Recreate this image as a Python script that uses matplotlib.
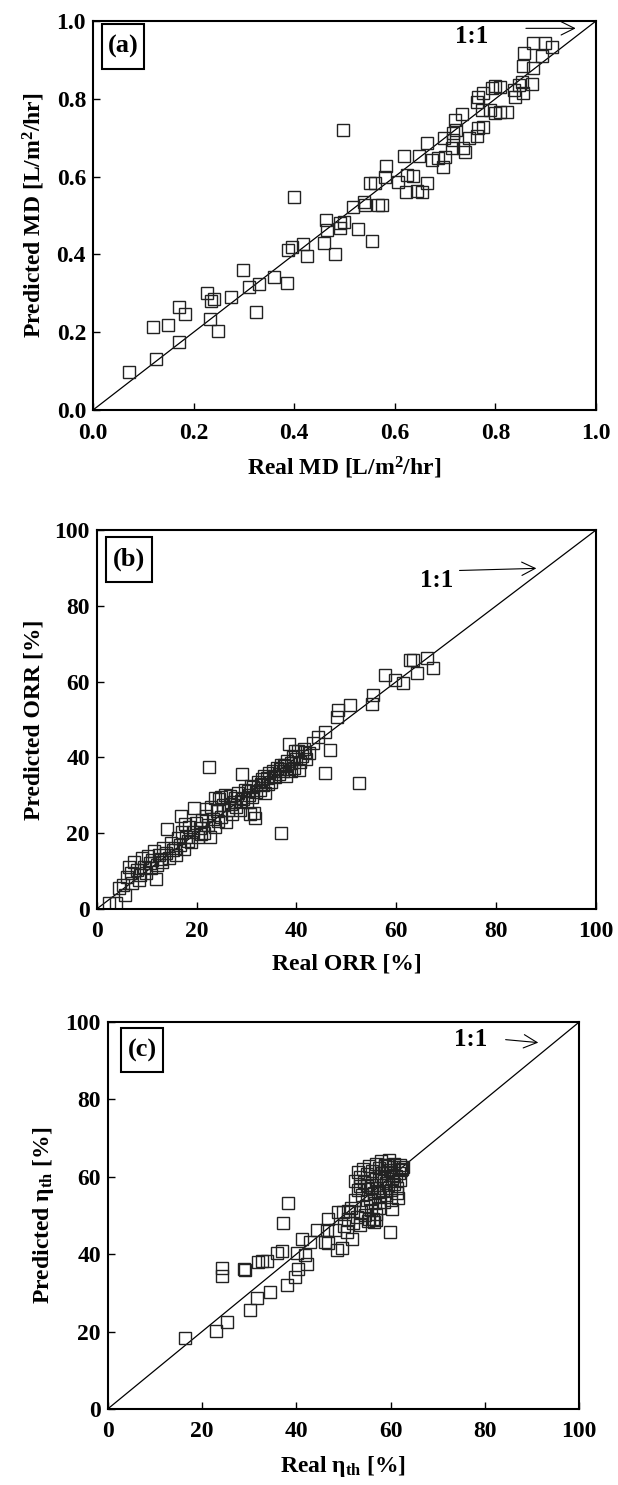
import matplotlib
matplotlib.use("Agg")
import matplotlib.pyplot as plt
from matplotlib.patches import Rectangle

plt.rcParams['font.family'] = ['Liberation Serif', 'DejaVu Serif']
plt.rcParams['font.weight'] = 'bold'
plt.rcParams['mathtext.fontset'] = 'custom'
plt.rcParams['mathtext.rm'] = 'Liberation Serif:bold'
plt.rcParams['mathtext.bf'] = 'Liberation Serif:bold'
plt.rcParams['mathtext.it'] = 'Liberation Serif'

# panel (a): MD flux
md_real = [0.072, 0.126, 0.120, 0.150, 0.170, 0.171, 0.183, 0.227, 0.235, 0.241,
           0.233, 0.249, 0.274, 0.298, 0.311, 0.329, 0.324, 0.360, 0.385, 0.388,
           0.395, 0.417, 0.426, 0.460, 0.481, 0.555, 0.400, 0.496, 0.465, 0.491,
           0.526, 0.463, 0.490, 0.498, 0.517, 0.541, 0.539, 0.567, 0.574, 0.551,
           0.582, 0.581, 0.607, 0.624, 0.622, 0.637, 0.653, 0.663, 0.619, 0.649,
           0.663, 0.673, 0.686, 0.696, 0.700, 0.698, 0.713, 0.716, 0.722, 0.720,
           0.733, 0.740, 0.748, 0.763, 0.766, 0.776, 0.773, 0.764, 0.766, 0.776,
           0.789, 0.799, 0.809, 0.822, 0.793, 0.799, 0.809, 0.839, 0.837, 0.846,
           0.852, 0.855, 0.872, 0.855, 0.874, 0.857, 0.875, 0.892, 0.899, 0.912,
           0.715, 0.736, 0.561, 0.645]
md_pred = [0.098, 0.131, 0.213, 0.218, 0.174, 0.266, 0.246, 0.302, 0.279, 0.286,
           0.233, 0.204, 0.291, 0.360, 0.317, 0.325, 0.253, 0.343, 0.326, 0.410,
           0.418, 0.426, 0.397, 0.428, 0.401, 0.434, 0.548, 0.720, 0.463, 0.468,
           0.465, 0.488, 0.480, 0.484, 0.523, 0.527, 0.535, 0.527, 0.527, 0.584,
           0.627, 0.600, 0.587, 0.604, 0.561, 0.602, 0.561, 0.583, 0.654, 0.653,
           0.687, 0.643, 0.647, 0.625, 0.651, 0.698, 0.673, 0.694, 0.720, 0.746,
           0.761, 0.664, 0.698, 0.703, 0.724, 0.728, 0.771, 0.792, 0.805, 0.814,
           0.771, 0.763, 0.767, 0.767, 0.827, 0.833, 0.831, 0.805, 0.823, 0.836,
           0.844, 0.816, 0.838, 0.883, 0.878, 0.917, 0.943, 0.910, 0.943, 0.932,
           0.711, 0.673, 0.583, 0.563]

# panel (b): ORR
orr_real = [2.4, 3.9, 4.5, 5.7, 5.2, 6.5, 6.0, 7.1, 6.8, 7.5, 8.1, 8.6, 9.0, 9.4, 9.8,
            10.2, 10.6, 11.0, 11.9, 11.4, 12.0, 12.5, 12.9, 13.3, 13.8, 14.0, 14.4,
            14.9, 15.3, 15.8, 16.2, 16.9, 16.6, 17.1, 17.5, 17.9, 18.4, 18.8, 19.5,
            19.3, 19.8, 20.2, 20.6, 21.0, 21.4, 21.9, 22.6, 22.4, 22.3, 22.8, 23.2,
            23.6, 24.1, 24.5, 24.9, 25.3, 25.6, 25.8, 26.2, 26.6, 27.0, 27.4, 27.8,
            28.2, 28.6, 29.0, 29.3, 29.7, 30.1, 30.5, 30.9, 31.2, 31.6, 31.4, 31.8,
            32.2, 32.6, 33.0, 33.4, 33.8, 34.2, 34.6, 35.0, 35.4, 35.8, 36.2, 36.9,
            36.6, 37.0, 37.4, 37.8, 38.2, 38.6, 38.5, 38.9, 39.3, 39.6, 40.0, 40.4,
            40.8, 41.2, 41.6, 42.0, 42.6, 43.4, 44.4, 45.7, 46.7, 45.7, 48.1, 48.4,
            50.7, 52.6, 55.2, 55.3, 57.7, 59.7, 61.3, 62.7, 63.4, 64.1, 66.1, 67.3,
            26.9, 28.9, 30.3, 32.9, 34.4, 35.6, 36.8, 37.6, 39.0, 39.8, 33.6, 31.0,
            27.6, 24.3, 20.9, 18.2, 15.6, 13.0, 10.8, 8.4, 21.8, 23.7, 17.6, 30.6,
            24.8, 40.6, 41.8, 38.0]
orr_pred = [1.7, 1.7, 5.5, 3.7, 6.4, 11.2, 8.5, 6.8, 9.6, 12.3, 10.4, 8.9, 13.5, 11.2, 9.6,
            14.1, 12.0, 13.0, 7.8, 15.2, 11.6, 14.3, 13.1, 16.0, 14.8, 21.0, 13.5,
            17.4, 15.6, 14.2, 18.6, 24.4, 16.8, 20.2, 15.9, 19.1, 21.7, 17.6, 26.6,
            20.4, 22.8, 18.9, 21.3, 23.5, 20.0, 24.6, 19.1, 37.5, 22.2, 26.8, 23.7,
            21.6, 25.9, 28.9, 24.3, 27.4, 30.1, 22.9, 26.2, 29.9, 25.1, 28.2, 27.0,
            30.6, 26.0, 35.5, 29.0, 31.5, 28.3, 30.2, 32.4, 32.3, 23.9, 25.2, 30.9,
            33.6, 31.5, 34.2, 32.6, 30.5, 34.5, 35.8, 33.4, 36.5, 34.7, 37.3, 20.0,
            35.6, 38.1, 36.4, 37.6, 39.0, 43.5, 36.9, 38.4, 40.1, 37.2, 39.5, 41.6,
            38.7, 40.4, 42.3, 39.6, 41.2, 43.7, 45.5, 46.8, 42.0, 36.0, 50.7, 52.5,
            53.8, 33.2, 54.1, 56.5, 61.7, 60.4, 59.6, 65.7, 65.7, 62.2, 66.1, 63.5,
            27.6, 28.4, 31.0, 33.1, 33.0, 35.0, 36.9, 37.9, 36.4, 41.8, 35.2, 29.5,
            29.3, 23.1, 19.9, 18.0, 16.0, 12.4, 10.9, 7.6, 26.3, 29.4, 22.5, 25.0,
            29.6, 36.8, 41.3, 35.0]

# panel (c): thermal efficiency
eta_real = [16.4, 22.9, 25.2, 24.3, 24.2, 28.8, 29.2, 30.2, 31.6, 31.9, 32.7, 33.8,
            34.4, 36.0, 36.9, 37.1, 38.3, 38.1, 39.7, 40.4, 40.1, 41.1, 42.2, 41.8,
            42.9, 44.3, 46.1, 46.8, 46.4, 46.8, 48.6, 49.6, 48.2, 50.7, 51.9, 52.1,
            48.9, 49.8, 50.9, 51.6, 59.9, 60.2, 55.5, 56.3, 57.0, 61.6, 59.2, 62.3,
            52.5, 53.0, 53.5, 53.4, 54.0, 54.3, 54.8, 55.0, 55.2, 55.6, 55.9, 56.1,
            56.4, 56.7, 57.0, 57.2, 57.5, 57.8, 58.0, 58.3, 58.5, 58.8, 59.0, 59.3,
            59.5, 59.8, 60.0, 60.3, 60.5, 60.8, 61.1, 61.4, 61.7, 62.0, 62.4, 53.8,
            54.6, 55.8, 56.8, 57.6, 58.6, 60.1, 55.3, 56.5, 52.8, 53.6, 51.0, 50.2,
            58.2, 59.1, 57.3, 56.0, 54.9, 58.9, 60.7, 61.9, 62.7, 52.4, 53.1, 54.2,
            55.5, 56.9, 57.9, 59.6, 60.6, 61.3]
eta_pred = [18.3, 20.2, 22.6, 36.4, 34.4, 36.2, 36.0, 25.6, 28.6, 38.1, 38.3, 38.2,
            30.3, 40.4, 40.9, 48.1, 53.3, 32.0, 34.0, 36.1, 40.4, 43.8, 37.5, 39.8,
            43.2, 46.2, 43.2, 42.8, 46.2, 49.0, 41.1, 41.5, 46.2, 45.8, 43.8, 48.1,
            51.0, 50.8, 51.2, 52.0, 45.8, 51.6, 49.0, 49.2, 48.8, 54.4, 63.0, 61.8,
            54.0, 56.5, 60.0, 57.7, 55.2, 58.6, 52.4, 60.8, 56.9, 54.3, 58.0, 61.5,
            55.7, 53.2, 59.3, 57.1, 62.2, 54.9, 60.3, 56.4, 58.9, 62.8, 55.3, 60.9,
            57.8, 61.7, 56.6, 59.4, 62.4, 58.1, 60.2, 57.0, 61.0, 59.1, 62.0, 51.0,
            50.1, 51.3, 50.5, 52.0, 53.4, 54.0, 48.6, 48.2, 49.5, 47.6, 49.0, 47.3,
            61.0, 58.4, 56.0, 57.2, 57.9, 63.1, 63.2, 63.0, 62.5, 59.0, 61.2, 62.0,
            62.7, 63.3, 64.0, 64.3, 60.5, 55.8]

fig = plt.figure(figsize=(6.18, 14.85), dpi=100)

panels = [
    dict(rect=[0.1505, 0.7239, 0.814, 0.262], x=md_real, y=md_pred, lim=1.0,
         ticks=[0.0, 0.2, 0.4, 0.6, 0.8, 1.0], fmt="{:.1f}", tag="(a)",
         box=(0.0173, 0.876, 0.102, 0.992),
         xlabel=r"Real MD [L/m$^{\rm 2}$/hr]", ylabel=r"Predicted MD [L/m$^{\rm 2}$/hr]",
         txt=(0.753, 0.96), arr=((0.855, 0.981), (0.965, 0.981))),
    dict(rect=[0.1565, 0.3879, 0.808, 0.2552], x=orr_real, y=orr_pred, lim=100,
         ticks=[0, 20, 40, 60, 80, 100], fmt="{:d}", tag="(b)",
         box=(0.0186, 0.8636, 0.110, 0.982),
         xlabel="Real ORR [%]", ylabel="Predicted ORR [%]",
         txt=(68.1, 86.8), arr=((72.1, 89.3), (88.6, 89.9))),
    dict(rect=[0.1743, 0.0512, 0.763, 0.2606], x=eta_real, y=eta_pred, lim=100,
         ticks=[0, 20, 40, 60, 80, 100], fmt="{:d}", tag="(c)",
         box=(0.0276, 0.870, 0.118, 0.985),
         xlabel=r"Real $\eta_{\rm th}$ [%]", ylabel=r"Predicted $\eta_{\rm th}$ [%]",
         txt=(77.0, 95.5), arr=((83.8, 95.5), (91.9, 94.6))),
]

for p in panels:
    ax = fig.add_axes(p["rect"])
    lim = p["lim"]
    ax.plot([0, lim], [0, lim], color="black", lw=0.9)
    ax.plot(p["x"], p["y"], linestyle="none", marker="s", ms=9, mfc="none",
            mec="#222222", mew=1.0)
    ax.set_xlim(0, lim)
    ax.set_ylim(0, lim)
    ax.set_xticks(p["ticks"])
    ax.set_yticks(p["ticks"])
    ax.set_xticklabels([p["fmt"].format(t) for t in p["ticks"]])
    ax.set_yticklabels([p["fmt"].format(t) for t in p["ticks"]])
    ax.tick_params(direction="in", length=5, width=1, labelsize=17)
    ax.tick_params(axis="x", pad=9)
    ax.tick_params(axis="y", pad=5)
    for s in ax.spines.values():
        s.set_linewidth(1.5)
    ax.set_xlabel(p["xlabel"], fontsize=17, fontweight="bold", labelpad=8)
    ax.set_ylabel(p["ylabel"], fontsize=17, fontweight="bold", labelpad=7)
    x0, y0, x1, y1 = p["box"]
    ax.add_patch(Rectangle((x0, y0), x1 - x0, y1 - y0, transform=ax.transAxes,
                           fill=False, ec="black", lw=1.5, zorder=5))
    ax.text((x0 + x1) / 2, (y0 + y1) / 2, p["tag"], transform=ax.transAxes,
            fontsize=19, fontweight="bold", ha="center", va="center")
    ax.text(p["txt"][0], p["txt"][1], "1:1", fontsize=18, fontweight="bold",
            ha="center", va="center")
    ax.annotate("", xy=p["arr"][1], xytext=p["arr"][0],
                arrowprops=dict(arrowstyle="->", lw=0.8, color="black",
                                mutation_scale=24))

fig.savefig("out.png", dpi=100)
